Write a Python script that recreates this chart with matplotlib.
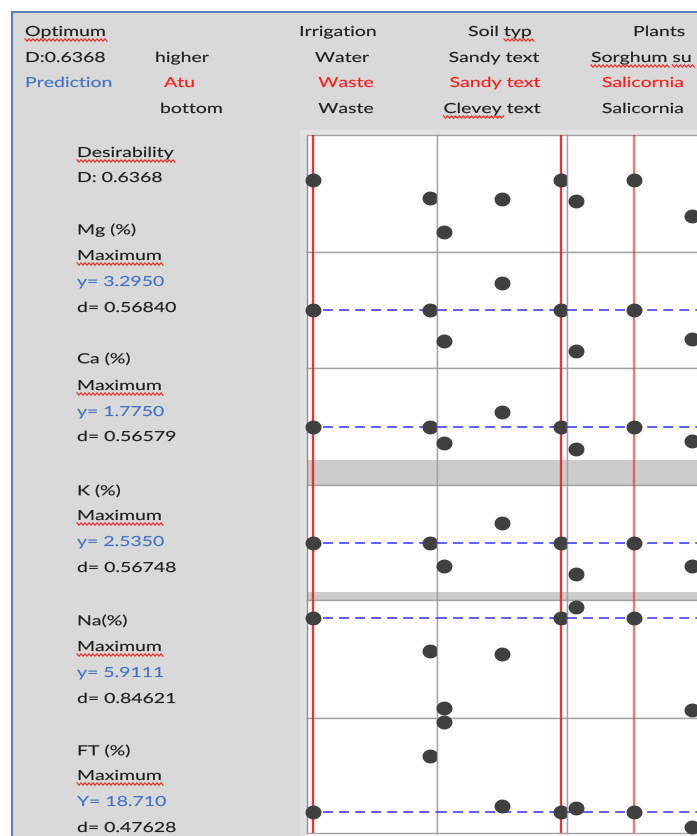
import numpy as np
import matplotlib
matplotlib.use("Agg")
import matplotlib.pyplot as plt
from matplotlib.patches import Rectangle
from matplotlib.path import Path
from matplotlib import patheffects as pe
from matplotlib.transforms import Affine2D

W, H, DPI = 697, 836, 100

# ---------------- data ----------------
factor_names = ["Irrigation", "Soil typ", "Plants"]
factor_high = ["Water", "Sandy text", "Sorghum su"]
factor_current = ["Waste", "Sandy text", "Salicornia"]
factor_low = ["Waste", "Clevey text", "Salicornia"]
current_level = [0, 2, 1]
n_levels = [2, 3, 3]

response_names = ["Desirability", "Mg (%)", "Ca (%)", "K (%)", "Na(%)", "FT (%)"]
goal_text = ["", "Maximum", "Maximum", "Maximum", "Maximum", "Maximum"]
pred_text = ["", "y= 3.2950", "y= 1.7750", "y= 2.5350", "y= 5.9111", "Y= 18.710"]
d_text = ["D: 0.6368", "d= 0.56840", "d= 0.56579", "d= 0.56748", "d= 0.84621", "d= 0.47628"]
predicted = [0.6368, 3.2950, 1.7750, 2.5350, 5.9111, 18.710]

desir_irrig = [0.6368, 0.480]
desir_soil = [0.180, 0.469, 0.6368]
desir_plants = [0.454, 0.6368, 0.321]

mg_irrig = [3.2950, 3.2950]
mg_soil = [2.926, 3.622, 3.2950]
mg_plants = [2.805, 3.2950, 2.946]

ca_irrig = [1.7750, 1.7750]
ca_soil = [1.614, 1.932, 1.7750]
ca_plants = [1.549, 1.7750, 1.628]

k_irrig = [2.5350, 2.5350]
k_soil = [2.298, 2.747, 2.5350]
k_plants = [2.211, 2.5350, 2.298]

na_irrig = [5.9111, 5.219]
na_soil = [4.006, 5.156, 5.9111]
na_plants = [6.158, 5.9111, 3.969]

ft_irrig = [18.710, 20.655]
ft_soil = [21.80, 18.927, 18.710]
ft_plants = [18.869, 18.710, 18.216]

row_values = [
    [desir_irrig, desir_soil, desir_plants],
    [mg_irrig, mg_soil, mg_plants],
    [ca_irrig, ca_soil, ca_plants],
    [k_irrig, k_soil, k_plants],
    [na_irrig, na_soil, na_plants],
    [ft_irrig, ft_soil, ft_plants],
]
row_ylims = [(0, 1.035), (2.6, 4.0), (1.18, 2.38), (1.94, 3.14), (3.8, 6.3), (18.0, 21.95)]

# ---------------- layout (pixels) ----------------
row_px = [(135, 252), (252, 368), (368, 485), (485, 600), (600, 718), (718, 833)]
band_frac = [0, 0, 25 / 117, 8 / 115, 0, 0]
col_px = [(307, 437), (437, 567), (567, 697)]
col_xlims = [(-0.051, 1.06), (-0.12, 2.103), (-0.155, 2.086)]
red_alpha = [0.9, 0.9, 0.6]

BG = "#d9d9d9"
TXT = "#1e1e1e"
BLUE_T = "#4472c4"
RED_T = "#ff1a1a"
FONT = "Lato"
FS = 10
SX = 1.4

fig = plt.figure(figsize=(W / DPI, H / DPI), dpi=DPI)
fig.patch.set_facecolor("white")


def fx(x):
    return x / W


def fy(y):
    return 1 - y / H


# panel background and border
fig.add_artist(Rectangle((fx(12), 0), 1 - fx(12), fy(12), transform=fig.transFigure,
                         facecolor=BG, edgecolor="none", zorder=-5))
fig.add_artist(plt.Line2D([fx(12), fx(12)], [0, fy(12)], transform=fig.transFigure,
                          color="#5b7cb8", lw=1.4, zorder=-4))
fig.add_artist(plt.Line2D([fx(12), 1], [fy(12), fy(12)], transform=fig.transFigure,
                          color="#5b7cb8", lw=1.4, zorder=-4))
# light frame around plot area
fig.add_artist(Rectangle((fx(300), 0), 1 - fx(300), fy(130), transform=fig.transFigure,
                         facecolor="#e2e2e2", edgecolor="none", zorder=-3))
# white area for the cut-off row below
fig.add_artist(Rectangle((fx(307), 0), 1 - fx(307), fy(833), transform=fig.transFigure,
                         facecolor="white", edgecolor="none", zorder=-2))

# ellipse marker
t = np.linspace(0, 2 * np.pi, 40)
ell = Path(np.column_stack([1.15 * np.cos(t), np.sin(t)]), closed=True)

for r, (top, bot) in enumerate(row_px):
    for c, (left, right) in enumerate(col_px):
        ax = fig.add_axes([fx(left), fy(bot), (right - left) / W, (bot - top) / H])
        ax.set_zorder(1)
        ax.set_facecolor("white")
        ax.set_xlim(*col_xlims[c])
        ax.set_ylim(*row_ylims[r])
        ax.set_xticks([])
        ax.set_yticks([])
        for s, sp in ax.spines.items():
            sp.set_color("#a3a3a3")
            sp.set_linewidth(1.0)
        if c == 2:
            ax.spines["right"].set_visible(False)
        if c == 0:
            ax.spines["left"].set_color("#8c8c8c")
        if band_frac[r] > 0:
            ax.add_patch(Rectangle((0, 0), 1, band_frac[r], transform=ax.transAxes,
                                   facecolor="#cccccc", edgecolor="none", zorder=1))
        ax.axvline(current_level[c], color="#e8201e", lw=1.7, alpha=red_alpha[c], zorder=3)
        if r > 0:
            ax.axhline(predicted[r], color="#3232ff", lw=1.1, dashes=(6.5, 4), zorder=3)
        vals = row_values[r][c]
        ax.plot(np.arange(n_levels[c]), vals, ls="none", marker=ell, ms=11.5,
                color="#404040", mec="none", clip_on=False, zorder=6)


# ---------------- text ----------------
class HStretch(pe.AbstractPathEffect):
    """Widen text glyphs horizontally about the text anchor (slight stroke for weight)."""

    def __init__(self, text, sx, stroke=0.12):
        super().__init__()
        self.text = text
        self.sx = sx
        self.stroke = stroke

    def draw_path(self, renderer, gc, tpath, affine, rgbFace=None):
        x_a = self.text.get_transform().transform(self.text.get_position())[0]
        aff = affine + Affine2D().translate(-x_a, 0).scale(self.sx, 1).translate(x_a, 0)
        gc0 = renderer.new_gc()
        gc0.copy_properties(gc)
        gc0.set_linewidth(self.stroke)
        if rgbFace is not None:
            gc0.set_foreground(rgbFace)
        renderer.draw_path(gc0, tpath, aff, rgbFace)
        gc0.restore()


texts_wavy = []


def put(x, y, s, color=TXT, ha="left", wavy=None):
    tt = fig.text(fx(x), fy(y), s, color=color, ha=ha, va="center_baseline",
                  fontsize=FS, family=FONT, zorder=5)
    tt.set_path_effects([HStretch(tt, SX)])
    if wavy is not None:
        texts_wavy.append((tt, wavy))
    return tt


# header
put(25, 31, "Optimum", wavy=[(0, None)])
put(25, 57, "D:0.6368")
put(25, 82, "Prediction", color=BLUE_T)
put(155, 57, "higher")
put(164, 82, "Atu", color=RED_T)
put(160, 108, "bottom")

head_x = [338, 500, 659]
high_x = [342, 494, 591]
cur_x = [346, 495, 643]
low_x = [346, 492, 643]
put(head_x[0], 31, factor_names[0], ha="center")
put(head_x[1], 31, factor_names[1], ha="center", wavy=[(5, None)])
put(head_x[2], 31, factor_names[2], ha="center")
put(high_x[0], 57, factor_high[0], ha="center")
put(high_x[1], 57, factor_high[1], ha="center")
put(high_x[2], 57, factor_high[2], ha="left", wavy=[(0, 7), (8, None)])
for i in range(3):
    put(cur_x[i], 82, factor_current[i], color=RED_T, ha="center")
put(low_x[0], 108, factor_low[0], ha="center")
put(low_x[1], 108, factor_low[1], ha="center", wavy=[(0, 6)])
put(low_x[2], 108, factor_low[2], ha="center")

# left response labels
label_y = [
    [152, 177],
    [229, 255, 281, 307],
    [358, 385, 411, 436],
    [490, 515, 541, 567],
    [620, 646, 672, 698],
    [750, 775, 801, 827],
]
for r in range(6):
    ys = label_y[r]
    if r == 0:
        put(77, ys[0], response_names[0], wavy=[(0, None)])
        put(77, ys[1], d_text[0])
    else:
        put(77, ys[0], response_names[r])
        put(77, ys[1], goal_text[r], wavy=[(0, None)])
        put(77, ys[2], pred_text[r], color=BLUE_T)
        put(77, ys[3], d_text[r])

# wavy spell-check underlines
fig.canvas.draw()
renderer = fig.canvas.get_renderer()
for tt, spans in texts_wavy:
    bb = tt.get_window_extent(renderer)
    x_a = tt.get_transform().transform(tt.get_position())[0]
    s = tt.get_text()
    prop = tt.get_fontproperties()
    for a, b in spans:
        b = len(s) if b is None else b
        wa = renderer.get_text_width_height_descent(s[:a], prop, ismath=False)[0] if a > 0 else 0
        wb = renderer.get_text_width_height_descent(s[:b], prop, ismath=False)[0]
        x0 = x_a + (bb.x0 + wa - x_a) * SX
        x1 = x_a + (bb.x0 + wb - x_a) * SX + 3
        base = bb.y0 - 2.0
        xs = np.arange(x0, x1, 2.0)
        ys = base + np.where(np.arange(len(xs)) % 2 == 0, 1.2, -1.2)
        fig.add_artist(plt.Line2D(xs / W, ys / H, transform=fig.transFigure,
                                  color="#e83030", lw=0.9, zorder=10))

fig.savefig("out.png", dpi=DPI, facecolor="white")
